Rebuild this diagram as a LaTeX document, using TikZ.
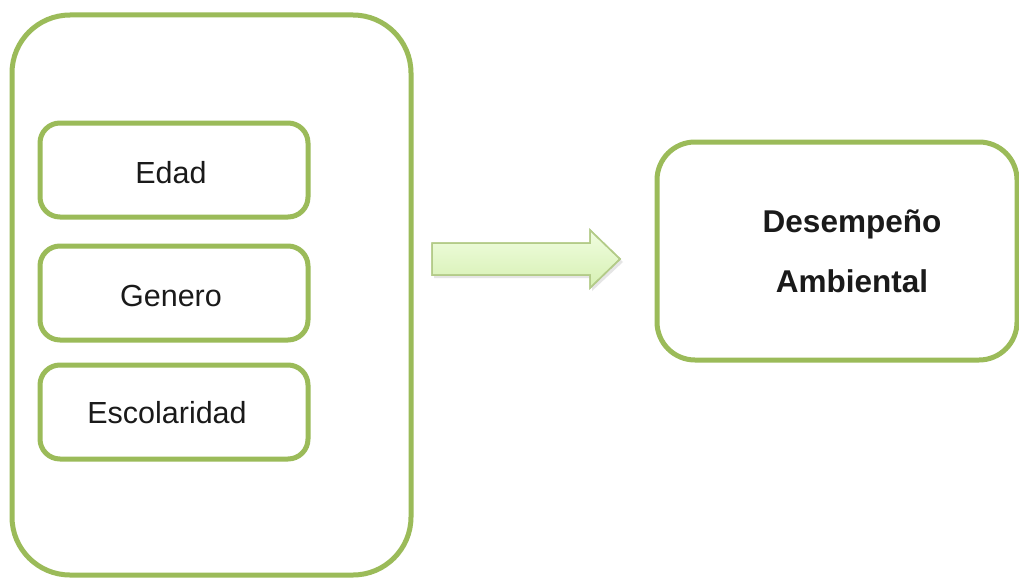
\documentclass[tikz,border=0pt]{standalone}
\usepackage{fontspec}
\setmainfont{Liberation Sans}
\definecolor{olive}{HTML}{9BBB59}
\definecolor{txt}{HTML}{1A1A1A}
\definecolor{arrowtop}{HTML}{F0FDE0}
\definecolor{arrowbot}{HTML}{D6F0B2}
\definecolor{arrowline}{HTML}{B3CB88}
\tikzset{
  gbox/.style={draw=olive, line width=5pt, fill=white, rectangle, inner sep=0pt, text=txt},
  itembox/.style={gbox, rounded corners=20pt, minimum width=268pt, minimum height=94pt, font=\fontsize{30.5}{36}\selectfont},
}
\newcommand{\lowertxt}[2]{\raisebox{-#1}[\height][\depth]{#2}}
\begin{document}
\begin{tikzpicture}[x=1pt,y=-1pt]
\useasboundingbox (0,0) rectangle (1019,578);
\fill[white] (0,0) rectangle (1019,578);
% outer container
\node[gbox, rounded corners=58pt, minimum width=399pt, minimum height=560pt] (outer) at (211.5,295) {};
% inner items
\node[itembox] (edad) at (174,170) {\hspace*{-6pt}\lowertxt{2.5pt}{Edad}};
\node[itembox] (genero) at (174,293) {\hspace*{-6pt}\lowertxt{2.5pt}{Genero}};
\node[itembox] (esco) at (174,412) {\hspace*{-14pt}\lowertxt{0.5pt}{Escolaridad}};
% result box
\node[gbox, rounded corners=38pt, minimum width=360pt, minimum height=218pt,
      align=center, font=\bfseries\fontsize{31.5}{60}\selectfont] (desemp) at (837,251)
      {\hspace*{30pt}Desempeño\\\hspace*{30pt}Ambiental};
% block arrow
\fill[gray!40, opacity=0.5] (434,246) -- (592,246) -- (592,233) -- (623,262) -- (592,291) -- (592,278) -- (434,278) -- cycle;
\shade[top color=arrowtop, bottom color=arrowbot, draw=arrowline, line width=1.5pt, line join=miter]
  (432,243) -- (590,243) -- (590,230) -- (620,259) -- (590,288) -- (590,275) -- (432,275) -- cycle;
\draw[arrowline, line width=1.5pt, line join=miter]
  (432,243) -- (590,243) -- (590,230) -- (620,259) -- (590,288) -- (590,275) -- (432,275) -- cycle;
\end{tikzpicture}
\end{document}
